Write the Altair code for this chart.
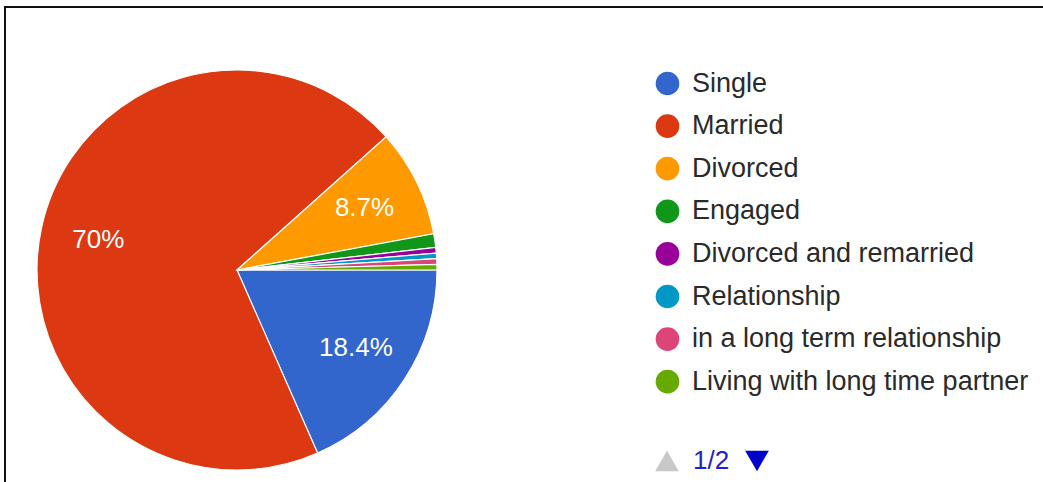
import altair as alt
import pandas as pd

categories = ["Single", "Married", "Divorced", "Engaged", "Divorced and remarried",
              "Relationship", "in a long term relationship", "Living with long time partner"]
shares = [18.4, 70.0, 8.7, 1.1, 0.45, 0.45, 0.45, 0.45]
labels = ["18.4%", "70%", "8.7%", "", "", "", "", ""]
colors = ["#3366cc", "#dc3912", "#ff9900", "#109618", "#990099", "#0099c6", "#dd4477", "#66aa00"]

df = pd.DataFrame({
    "category": categories,
    "share": shares,
    "label": labels,
    "order": list(range(len(categories))),
})
one = pd.DataFrame({"k": [0]})

PI = 3.141592653589793
theta_scale = alt.Scale(range=[PI / 2, PI / 2 + 2 * PI])
color_scale = alt.Scale(domain=categories, range=colors)

pie = alt.Chart(df).mark_arc(radius=200, stroke="white", strokeWidth=1.2).encode(
    theta=alt.Theta("share:Q", stack=True, scale=theta_scale),
    color=alt.Color("category:N", scale=color_scale, sort=categories,
                    legend=alt.Legend(title=None, orient="none", legendX=654, legendY=70,
                                      symbolType="circle", symbolSize=560, symbolStrokeWidth=0,
                                      labelFont="Liberation Sans", labelFontSize=27,
                                      labelColor="#2a2a2a", rowPadding=14.6, labelOffset=11,
                                      labelLimit=500)),
    order=alt.Order("order:Q"),
    x=alt.value(237),
    y=alt.value(270),
)

text = alt.Chart(df).mark_text(radius=142, font="Liberation Sans", fontSize=26,
                               color="white", align="center", baseline="middle").encode(
    theta=alt.Theta("share:Q", stack=True, scale=theta_scale),
    detail="category:N",
    order=alt.Order("order:Q"),
    text="label:N",
    x=alt.value(237),
    y=alt.value(270),
)

top_line = alt.Chart(one).mark_rule(color="#111111", strokeWidth=2).encode(
    x=alt.value(4), x2=alt.value(1043), y=alt.value(7))
left_line = alt.Chart(one).mark_rule(color="#111111", strokeWidth=2).encode(
    x=alt.value(5), y=alt.value(6), y2=alt.value(482))

up = alt.Chart(one).mark_point(shape="triangle-up", filled=True, size=560, opacity=1,
                               color="#c8c8c8").encode(x=alt.value(667), y=alt.value(461))
page = alt.Chart(one).mark_text(text="1/2", font="Liberation Sans", fontSize=26,
                                color="#2222cc", align="left", baseline="middle").encode(
    x=alt.value(693), y=alt.value(461))
down = alt.Chart(one).mark_point(shape="triangle-down", filled=True, size=560, opacity=1,
                                 color="#0000cc").encode(x=alt.value(757), y=alt.value(461))

chart = alt.layer(pie, text, top_line, left_line, up, page, down).properties(
    width=1043, height=482, padding=0, autosize=alt.AutoSizeParams(type="none"),
    background="white",
).configure_view(stroke=None)

chart.save("out.html", embed_options={"renderer": "svg", "actions": False})
